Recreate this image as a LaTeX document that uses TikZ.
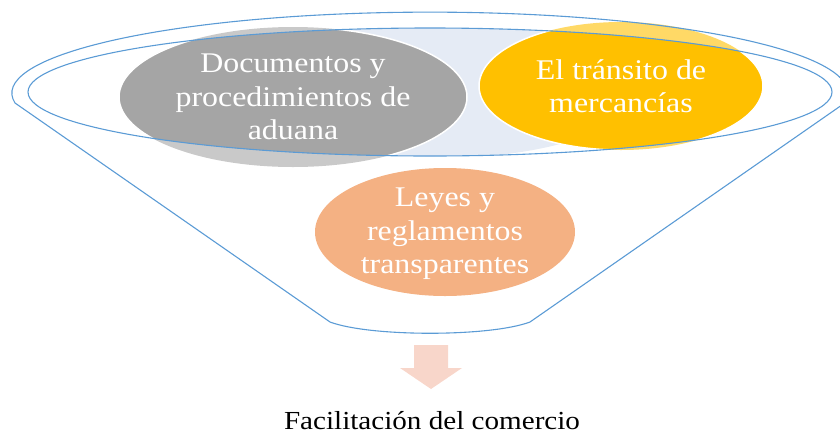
\documentclass[tikz,border=0pt]{standalone}
\usepackage{fontspec}
\setmainfont[FakeStretch=1.12]{Liberation Serif}
\definecolor{funnelblue}{HTML}{5B9BD5}
\definecolor{graydark}{HTML}{A5A5A5}
\definecolor{graylight}{HTML}{C9C9C9}
\definecolor{yellowdark}{HTML}{FFC000}
\definecolor{yellowlight}{HTML}{FFD966}
\definecolor{paleblue}{HTML}{E5EBF5}
\definecolor{orangefill}{HTML}{F4B183}
\definecolor{arrowpink}{HTML}{F8D6CA}
\begin{document}
\begin{tikzpicture}[x=1pt,y=-1pt,
  funnelline/.style={draw=funnelblue, line width=1.1pt},
  cirtext/.style={text=white, align=center, font=\fontsize{28.5}{33.5}\selectfont},
  rim/.style={draw=white, line width=1.5pt}]
\useasboundingbox (0,0) rectangle (840,437);
% parts of the circles outside the funnel mouth
\fill[graylight] (293,97) ellipse[x radius=174pt, y radius=70pt];
\fill[yellowlight] (621,86) ellipse[x radius=142pt, y radius=64pt];
% parts inside the funnel mouth
\begin{scope}
  \clip (430,92) ellipse[x radius=402pt, y radius=64pt];
  \fill[paleblue] (440,88) ellipse[x radius=200pt, y radius=70pt];
  \filldraw[fill=graydark, rim] (293,97) ellipse[x radius=174pt, y radius=70pt];
  \filldraw[fill=yellowdark, rim] (621,86) ellipse[x radius=142pt, y radius=64pt];
\end{scope}
% third circle
\fill[orangefill] (445,232) ellipse[x radius=130pt, y radius=64pt];
% funnel outline
\draw[funnelline] (430,92) ellipse[x radius=402pt, y radius=64pt];
\draw[funnelline, line join=round] (15,103) arc[start angle=187, end angle=-7, x radius=418pt, y radius=81pt]
  -- (530,322) .. controls (490,337) and (370,337) .. (330,322) -- cycle;
% arrow
\fill[arrowpink] (414,345) -- (448,345) -- (448,368) -- (462,368) -- (431,389) -- (400,368) -- (414,368) -- cycle;
% texts
\node[cirtext] (docs) at (293,97) {Documentos y\\procedimientos de\\aduana};
\node[cirtext] (transito) at (621,86) {El tránsito de\\mercancías};
\node[cirtext] (leyes) at (445,234) {Leyes y\\reglamentos\\transparentes};
\node[text=black, font=\fontsize{26}{30}\selectfont] (facil) at (432,421) {Facilitación del comercio};
\end{tikzpicture}
\end{document}
